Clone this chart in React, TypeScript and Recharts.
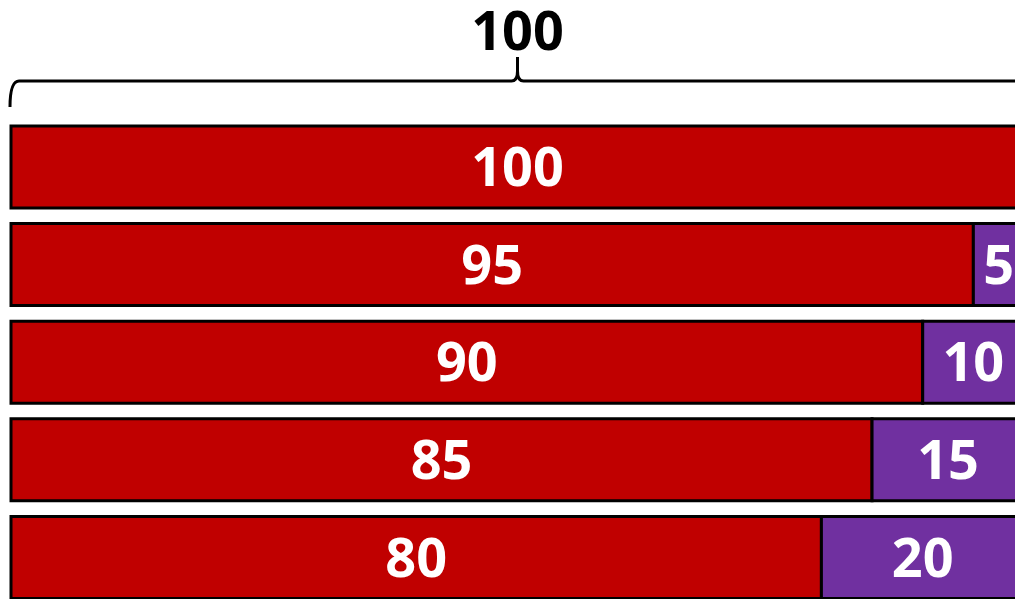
import { BarChart, Bar, XAxis, YAxis, LabelList, ReferenceArea } from "recharts";

const rows = ["A", "B", "C", "D", "E"];
const redValues = [100, 95, 90, 85, 80];
const purpleValues = [0, 5, 10, 15, 20];
const braceLabel = "100";

const chartData = rows.map((row, i) => ({
  row,
  red: redValues[i],
  purple: purpleValues[i],
}));

const labelFont = '"Open Sans", "Noto Sans", sans-serif';

function Brace(props: any) {
  const { x, y, width } = props;
  const x0 = x;
  const x1 = x + width;
  const mid = x + width / 2;
  const top = y - 37;
  const d = [
    `M ${x0 - 1} ${y - 11}`,
    `Q ${x0 - 1} ${top} ${x0 + 8} ${top}`,
    `L ${mid - 6} ${top}`,
    `Q ${mid} ${top} ${mid} ${top - 10}`,
    `L ${mid} ${top - 24}`,
    `M ${mid} ${top - 10}`,
    `Q ${mid} ${top} ${mid + 6} ${top}`,
    `L ${x1 - 8} ${top}`,
    `Q ${x1 + 1} ${top} ${x1 + 1} ${y - 11}`,
  ].join(" ");
  return (
    <g>
      <path d={d} fill="none" stroke="#000" strokeWidth={3} />
      <text
        x={mid}
        y={top - 31}
        textAnchor="middle"
        fontFamily={labelFont}
        fontWeight="bold"
        fontSize={54}
        fill="#000"
      >
        {braceLabel}
      </text>
    </g>
  );
}

const hideZero = (v: any) => (Number(v) === 0 ? "" : v);

export default function App() {
  return (
    <div
      style={{
        position: "absolute",
        left: 0,
        top: 0,
        width: 1015,
        height: 599,
        overflow: "hidden",
        background: "#fff",
      }}
    >
      <BarChart
        width={1050}
        height={620}
        data={chartData}
        layout="vertical"
        margin={{ top: 118, right: 26, bottom: 14, left: 11 }}
        barCategoryGap={8}
      >
        <XAxis type="number" domain={[0, 100]} hide />
        <YAxis type="category" dataKey="row" hide />
        <ReferenceArea
          x1={0}
          x2={100}
          ifOverflow="visible"
          shape={<Brace />}
        />
        <Bar
          dataKey="red"
          stackId="s"
          fill="#C00000"
          stroke="#000"
          strokeWidth={3}
          isAnimationActive={false}
        >
          <LabelList
            dataKey="red"
            position="center"
            fill="#fff"
            fontFamily={labelFont}
            fontWeight="bold"
            fontSize={54}
          />
        </Bar>
        <Bar
          dataKey="purple"
          stackId="s"
          fill="#7030A0"
          stroke="#000"
          strokeWidth={3}
          isAnimationActive={false}
        >
          <LabelList
            dataKey="purple"
            position="center"
            fill="#fff"
            fontFamily={labelFont}
            fontWeight="bold"
            fontSize={54}
            formatter={hideZero}
          />
        </Bar>
      </BarChart>
    </div>
  );
}
